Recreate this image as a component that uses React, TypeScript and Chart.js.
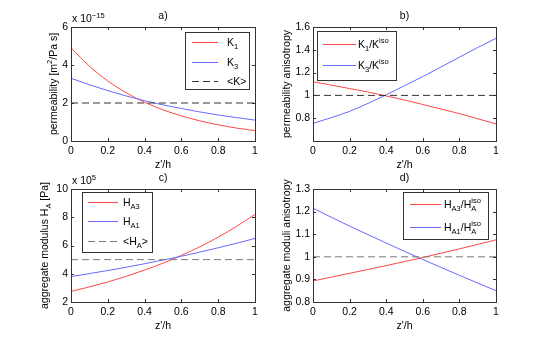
import React, { useEffect, useRef } from 'react';
import { Chart, registerables } from 'chart.js';

Chart.register(...registerables);

// ---------- data ----------
const zh = [0, 0.1, 0.2, 0.3, 0.4, 0.5, 0.6, 0.7, 0.8, 0.9, 1.0];

// a) permeability (x 1e-15 m^2/Pa s)
const K1 = [4.9, 3.94, 3.16, 2.54, 2.04, 1.64, 1.32, 1.06, 0.85, 0.68, 0.55];
const K3 = [3.3, 2.96, 2.65, 2.37, 2.12, 1.9, 1.71, 1.53, 1.37, 1.23, 1.1];
const Kmean = 2;

// b) permeability anisotropy
const K1ratio = [1.12, 1.09, 1.06, 1.03, 0.995, 0.96, 0.92, 0.88, 0.84, 0.795, 0.75];
const K3ratio = [0.755, 0.805, 0.86, 0.93, 1.005, 1.085, 1.165, 1.25, 1.335, 1.42, 1.5];
const Kref = 1;

// c) aggregate modulus (x 1e5 Pa)
const HA3 = [2.75, 3.07, 3.42, 3.82, 4.26, 4.75, 5.3, 5.91, 6.59, 7.36, 8.2];
const HA1 = [3.8, 4.01, 4.23, 4.46, 4.71, 4.97, 5.24, 5.53, 5.84, 6.16, 6.5];
const HAmean = 5;

// d) aggregate moduli anisotropy
const HA3ratio = [0.893, 0.91, 0.927, 0.944, 0.961, 0.979, 0.997, 1.016, 1.035, 1.055, 1.075];
const HA1ratio = [1.215, 1.175, 1.136, 1.098, 1.061, 1.024, 0.988, 0.953, 0.918, 0.884, 0.85];
const HAref = 1;

const panelTitles = ['a)', 'b)', 'c)', 'd)'];
const xTitle = "z'/h";
const yTitles = [
  'permeability [m^{2}/Pa s]',
  'permeability anisotropy',
  'aggregate modulus H_{A} [Pa]',
  'aggregate moduli anisotropy',
];
const exponents = ['x 10^{\u221215}', '', 'x 10^{5}', ''];
const labelsA = ['K_{1}', 'K_{3}', '<K>'];
const labelsB = ['K_{1}/K^{iso}', 'K_{3}/K^{iso}'];
const labelsC = ['H_{A3}', 'H_{A1}', '<H_{A}>'];
const labelsD = ['H_{A3}/H_{A}^{iso}', 'H_{A1}/H_{A}^{iso}'];

// ---------- styling ----------
const W = 548;
const H = 341;
const FONT = '"Liberation Sans", Arial, Helvetica, sans-serif';
const RED = 'rgb(255,70,70)';
const BLUE = 'rgb(105,105,255)';
const DARK_DASH = '#333333';
const GRAY_DASH = '#7a7a7a';
const AXIS = '#333333';
const Y_AXIS_W = 40;
const X_AXIS_H = 20;
const TL = 3;

type Tok = { t: string; k: 0 | 1 | 2 };
function parseRich(s: string): Tok[] {
  const out: Tok[] = [];
  let buf = '';
  for (let i = 0; i < s.length; i++) {
    const c = s[i];
    if ((c === '_' || c === '^') && s[i + 1] === '{') {
      if (buf) { out.push({ t: buf, k: 0 }); buf = ''; }
      const end = s.indexOf('}', i + 2);
      out.push({ t: s.slice(i + 2, end), k: c === '_' ? 1 : 2 });
      i = end;
    } else buf += c;
  }
  if (buf) out.push({ t: buf, k: 0 });
  return out;
}
function richRun(ctx: CanvasRenderingContext2D, s: string, size: number, draw?: { x: number; y: number }) {
  const toks = parseRich(s);
  let w = 0;
  for (let i = 0; i < toks.length; i++) {
    const tk = toks[i];
    if (tk.k === 0) {
      ctx.font = `${size}px ${FONT}`;
      if (draw) ctx.fillText(tk.t, draw.x + w, draw.y);
      w += ctx.measureText(tk.t).width;
    } else {
      const ss = size * 0.72;
      ctx.font = `${ss}px ${FONT}`;
      const group = [tk];
      const nx = toks[i + 1];
      if (nx && nx.k !== 0 && nx.k !== tk.k) { group.push(nx); i++; }
      let gw = 0;
      for (const g of group) {
        const off = g.k === 1 ? size * 0.33 : -size * 0.42;
        if (draw) ctx.fillText(g.t, draw.x + w, draw.y + off);
        gw = Math.max(gw, ctx.measureText(g.t).width);
      }
      w += gw;
    }
  }
  return w;
}
function drawRich(ctx: CanvasRenderingContext2D, s: string, x: number, y: number, size: number, align: 'left' | 'center') {
  ctx.textAlign = 'left';
  ctx.textBaseline = 'alphabetic';
  let sx = x;
  if (align === 'center') sx = x - richRun(ctx, s, size) / 2;
  richRun(ctx, s, size, { x: sx, y });
}

type Row = { label: string; color: string; dash: number[] };
type LegendCfg = { box: [number, number, number, number]; rowsY: number[]; x1: number; x2: number; tx: number; rows: Row[] };
type DecorCfg = { title: string; exponent: string; yTitle: string; yTitleX: number; legend: LegendCfg };

const decorPlugin = {
  id: 'decor',
  afterDraw(chart: any, _a: any, opts: DecorCfg) {
    const ctx: CanvasRenderingContext2D = chart.ctx;
    const a = chart.chartArea;
    const xs = chart.scales.x;
    const ys = chart.scales.y;
    ctx.save();
    // inward ticks
    ctx.strokeStyle = AXIS;
    ctx.lineWidth = 1;
    ctx.setLineDash([]);
    ctx.beginPath();
    xs.ticks.forEach((t: any) => {
      const px = Math.round(xs.getPixelForValue(t.value)) + 0.5;
      ctx.moveTo(px, a.top); ctx.lineTo(px, a.top + TL);
      ctx.moveTo(px, a.bottom); ctx.lineTo(px, a.bottom - TL);
    });
    ys.ticks.forEach((t: any) => {
      const py = Math.round(ys.getPixelForValue(t.value)) + 0.5;
      ctx.moveTo(a.left, py); ctx.lineTo(a.left + TL, py);
      ctx.moveTo(a.right, py); ctx.lineTo(a.right - TL, py);
    });
    ctx.stroke();
    ctx.strokeRect(a.left + 0.5, a.top + 0.5, a.right - a.left, a.bottom - a.top);

    ctx.fillStyle = '#000';
    const cx = (a.left + a.right) / 2;
    const cy = (a.top + a.bottom) / 2;
    // panel title
    drawRich(ctx, opts.title, cx, a.top - 8, 10.5, 'center');
    // exponent
    if (opts.exponent) drawRich(ctx, opts.exponent, a.left + 1, a.top - 5, 10.5, 'left');
    // x title
    drawRich(ctx, xTitle, cx, a.bottom + 26.5, 10.5, 'center');
    // y title
    ctx.save();
    ctx.translate(opts.yTitleX, cy);
    ctx.rotate(-Math.PI / 2);
    drawRich(ctx, opts.yTitle, 0, 3.5, 10.5, 'center');
    ctx.restore();

    // legend
    const L = opts.legend;
    ctx.fillStyle = '#fff';
    ctx.fillRect(L.box[0], L.box[1], L.box[2], L.box[3]);
    ctx.strokeStyle = AXIS;
    ctx.strokeRect(L.box[0] + 0.5, L.box[1] + 0.5, L.box[2], L.box[3]);
    L.rows.forEach((r, i) => {
      const y = L.rowsY[i] + 0.5;
      ctx.strokeStyle = r.color;
      ctx.setLineDash(r.dash);
      ctx.beginPath();
      ctx.moveTo(L.x1, y);
      ctx.lineTo(L.x2, y);
      ctx.stroke();
      ctx.setLineDash([]);
      ctx.fillStyle = '#000';
      drawRich(ctx, r.label, L.tx, L.rowsY[i] + 3.8, 10.5, 'left');
    });
    ctx.restore();
  },
};

const pts = (ys: number[]) => ys.map((y, i) => ({ x: zh[i], y }));
const flat = (v: number) => [{ x: zh[0], y: v }, { x: zh[zh.length - 1], y: v }];
const fmt = (v: number) => String(Math.round(v * 10) / 10);

type Area = { l: number; t: number; r: number; b: number };
function makeChart(
  canvas: HTMLCanvasElement,
  area: Area,
  yScale: { min: number; max: number; step: number; hideBelow?: number },
  datasets: any[],
  decor: DecorCfg
) {
  const tickFont = { family: FONT, size: 10.5 };
  return new Chart(canvas, {
    type: 'line',
    data: { datasets },
    plugins: [decorPlugin],
    options: {
      animation: false,
      responsive: false,
      events: [],
      layout: {
        padding: {
          left: area.l - Y_AXIS_W,
          right: W - area.r,
          top: area.t,
          bottom: H - area.b - X_AXIS_H,
        },
      },
      plugins: {
        legend: { display: false },
        tooltip: { enabled: false },
        title: { display: false },
        decor,
      } as any,
      scales: {
        x: {
          type: 'linear',
          min: 0,
          max: 1,
          ticks: { stepSize: 0.2, padding: 4, color: '#000', font: tickFont, callback: (v: any) => fmt(v), maxRotation: 0 },
          grid: { display: false, drawTicks: false },
          border: { display: false },
          afterFit: (s: any) => { s.height = X_AXIS_H; },
        },
        y: {
          type: 'linear',
          min: yScale.min,
          max: yScale.max,
          ticks: {
            stepSize: yScale.step,
            padding: 3,
            color: '#000',
            font: tickFont,
            callback: (v: any) => (yScale.hideBelow !== undefined && v < yScale.hideBelow ? '' : fmt(v)),
          },
          grid: { display: false, drawTicks: false },
          border: { display: false },
          afterFit: (s: any) => { s.width = Y_AXIS_W; },
        },
      },
    } as any,
  });
}

const line = (data: any[], color: string, dash: number[] = []) => ({
  data,
  borderColor: color,
  borderWidth: 1,
  borderDash: dash,
  pointRadius: 0,
  fill: false,
  tension: 0.4,
  cubicInterpolationMode: 'monotone',
});

export default function App() {
  const r1 = useRef<HTMLCanvasElement>(null);
  const r2 = useRef<HTMLCanvasElement>(null);
  const r3 = useRef<HTMLCanvasElement>(null);
  const r4 = useRef<HTMLCanvasElement>(null);

  useEffect(() => {
    const charts: Chart[] = [];
    charts.push(
      makeChart(
        r1.current!,
        { l: 71, t: 27, r: 255, b: 141 },
        { min: 0, max: 6, step: 2 },
        [line(flat(Kmean), DARK_DASH, [7, 4]), line(pts(K3), BLUE), line(pts(K1), RED)],
        {
          title: panelTitles[0],
          exponent: exponents[0],
          yTitle: yTitles[0],
          yTitleX: 53,
          legend: {
            box: [185, 32, 64, 57],
            rowsY: [42, 62, 81],
            x1: 192,
            x2: 218,
            tx: 227,
            rows: [
              { label: labelsA[0], color: RED, dash: [] },
              { label: labelsA[1], color: BLUE, dash: [] },
              { label: labelsA[2], color: DARK_DASH, dash: [7, 4] },
            ],
          },
        }
      )
    );
    charts.push(
      makeChart(
        r2.current!,
        { l: 313, t: 27, r: 496, b: 141 },
        { min: 0.6, max: 1.6, step: 0.2, hideBelow: 0.7 },
        [line(flat(Kref), DARK_DASH, [7, 4]), line(pts(K1ratio), RED), line(pts(K3ratio), BLUE)],
        {
          title: panelTitles[1],
          exponent: exponents[1],
          yTitle: yTitles[1],
          yTitleX: 286,
          legend: {
            box: [317, 31, 79, 49],
            rowsY: [44, 65],
            x1: 323,
            x2: 356,
            tx: 358,
            rows: [
              { label: labelsB[0], color: RED, dash: [] },
              { label: labelsB[1], color: BLUE, dash: [] },
            ],
          },
        }
      )
    );
    charts.push(
      makeChart(
        r3.current!,
        { l: 71, t: 189, r: 255, b: 302 },
        { min: 2, max: 10, step: 2 },
        [line(flat(HAmean), GRAY_DASH, [7, 4]), line(pts(HA1), BLUE), line(pts(HA3), RED)],
        {
          title: panelTitles[2],
          exponent: exponents[2],
          yTitle: yTitles[2],
          yTitleX: 44,
          legend: {
            box: [82, 192, 70, 60],
            rowsY: [202, 221, 241],
            x1: 88,
            x2: 118,
            tx: 123,
            rows: [
              { label: labelsC[0], color: RED, dash: [] },
              { label: labelsC[1], color: BLUE, dash: [] },
              { label: labelsC[2], color: GRAY_DASH, dash: [7, 4] },
            ],
          },
        }
      )
    );
    charts.push(
      makeChart(
        r4.current!,
        { l: 313, t: 189, r: 496, b: 302 },
        { min: 0.8, max: 1.3, step: 0.1 },
        [line(flat(HAref), GRAY_DASH, [7, 4]), line(pts(HA3ratio), RED), line(pts(HA1ratio), BLUE)],
        {
          title: panelTitles[3],
          exponent: exponents[3],
          yTitle: yTitles[3],
          yTitleX: 286,
          legend: {
            box: [403, 192, 85, 47],
            rowsY: [204, 227],
            x1: 410,
            x2: 441,
            tx: 444,
            rows: [
              { label: labelsD[0], color: RED, dash: [] },
              { label: labelsD[1], color: BLUE, dash: [] },
            ],
          },
        }
      )
    );
    return () => charts.forEach((c) => c.destroy());
  }, []);

  const cs: React.CSSProperties = { position: 'absolute', left: 0, top: 0, width: W, height: H };
  return (
    <div style={{ position: 'absolute', left: 0, top: 0, width: W, height: H, background: '#fff' }}>
      <canvas ref={r1} width={W} height={H} style={cs} />
      <canvas ref={r2} width={W} height={H} style={cs} />
      <canvas ref={r3} width={W} height={H} style={cs} />
      <canvas ref={r4} width={W} height={H} style={cs} />
    </div>
  );
}
